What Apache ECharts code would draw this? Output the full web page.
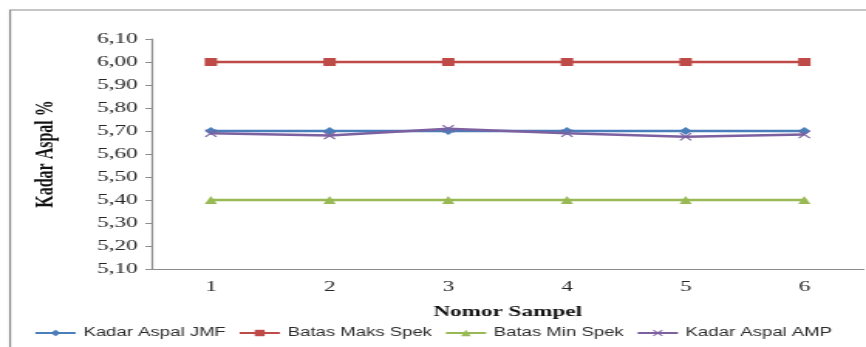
<!DOCTYPE html>
<html>
<head>
<meta charset="utf-8">
<script src="https://cdn.jsdelivr.net/npm/echarts@6/dist/echarts.min.js"></script>
<style>
  html, body { margin: 0; padding: 0; background: #fff; overflow: hidden; }
  /* the source picture is stretched sideways, so draw narrow and stretch it */
  #chart-container { width: 560px; height: 347px; transform: scaleX(1.5464); transform-origin: 0 0; }
</style>
</head>
<body>
<div id="chart-container"></div>
<script>
var samples = ["1", "2", "3", "4", "5", "6"];
var kadarJMF = [5.70, 5.70, 5.70, 5.70, 5.70, 5.70];
var batasMaks = [6.00, 6.00, 6.00, 6.00, 6.00, 6.00];
var batasMin = [5.40, 5.40, 5.40, 5.40, 5.40, 5.40];
var kadarAMP = [5.69, 5.68, 5.71, 5.69, 5.675, 5.685];
var yMin = 5.1, yMax = 6.1, yStep = 0.1;

var crossPath = "path://M0,1L1,0L5,4L9,0L10,1L6,5L10,9L9,10L5,6L1,10L0,9L4,5Z";

var dom = document.getElementById("chart-container");
var myChart = echarts.init(dom, null, { renderer: "canvas" });

function lineSeries(name, data, color, symbol, size) {
  return {
    name: name,
    type: "line",
    data: data,
    symbol: symbol,
    symbolSize: size,
    showSymbol: true,
    lineStyle: { color: color, width: 2.5 },
    itemStyle: { color: color },
    emphasis: { disabled: true },
    animation: false,
  };
}

var option = {
  animation: false,
  graphic: [
    {
      type: "rect",
      shape: { x: 6.5, y: 10, width: 600, height: 400 },
      style: { fill: "none", stroke: "#8c8c8c", lineWidth: 1.2 },
      silent: true,
    },
  ],
  grid: { left: 98, right: 1.5, top: 39, bottom: 78 },
  legend: {
    left: "center",
    top: 322,
    width: 550,
    itemWidth: 26,
    itemHeight: 8,
    itemGap: 8,
    textStyle: { fontFamily: "Liberation Sans", fontSize: 12, color: "#2b2b2b" },
    data: ["Kadar Aspal JMF", "Batas Maks Spek", "Batas Min Spek", "Kadar Aspal AMP"],
  },
  xAxis: {
    type: "category",
    data: samples,
    boundaryGap: true,
    name: "Nomor Sampel",
    nameLocation: "middle",
    nameGap: 36,
    nameTextStyle: { fontFamily: "Liberation Serif", fontWeight: "bold", fontSize: 15, color: "#111" },
    axisLine: { lineStyle: { color: "#8c8c8c", width: 1.2 } },
    axisTick: { show: false },
    axisLabel: { fontFamily: "Liberation Serif", fontSize: 15, color: "#262626", margin: 11 },
  },
  yAxis: {
    type: "value",
    min: yMin,
    max: yMax,
    interval: yStep,
    name: "Kadar Aspal %",
    nameLocation: "middle",
    nameGap: 60,
    nameTextStyle: { fontFamily: "Liberation Serif", fontWeight: "bold", fontSize: 16, color: "#111" },
    axisLine: { show: true, lineStyle: { color: "#8c8c8c", width: 1.2 } },
    axisTick: { show: true, length: 4, lineStyle: { color: "#8c8c8c" } },
    splitLine: { show: false },
    axisLabel: {
      fontFamily: "Liberation Serif",
      fontSize: 15,
      color: "#262626",
      margin: 9,
      formatter: function (v) { return v.toFixed(2).replace(".", ","); },
    },
  },
  series: [
    lineSeries("Kadar Aspal JMF", kadarJMF, "#4a7ebb", "diamond", 8),
    lineSeries("Batas Maks Spek", batasMaks, "#be4b48", "rect", 8),
    lineSeries("Batas Min Spek", batasMin, "#98b954", "triangle", 8),
    lineSeries("Kadar Aspal AMP", kadarAMP, "#7d60a0", crossPath, 8),
  ],
};

if (option && typeof option === "object") {
  myChart.setOption(option);
}
</script>
</body>
</html>
